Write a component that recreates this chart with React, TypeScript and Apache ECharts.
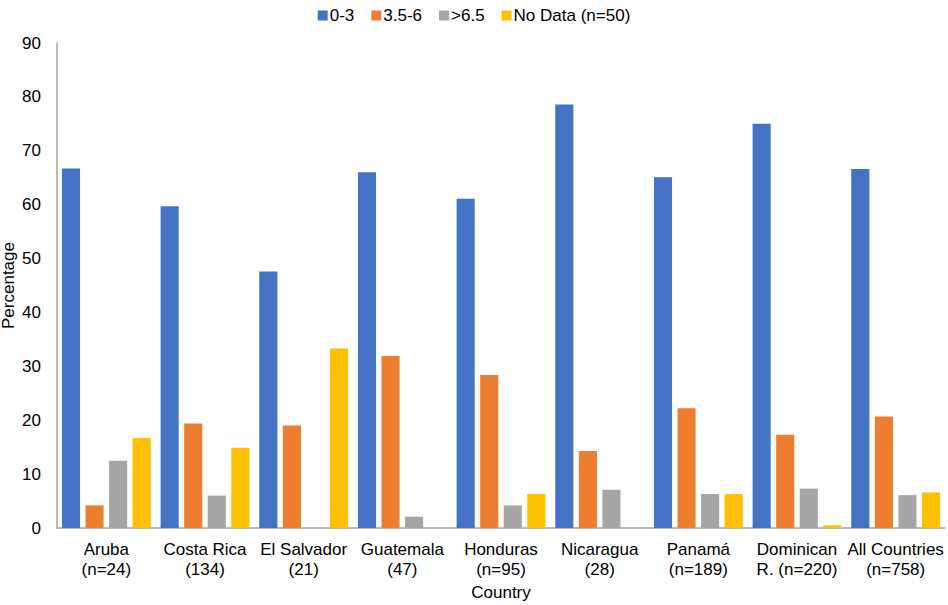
import React, { useEffect, useRef } from "react";
import * as echarts from "echarts";

const categories = [
  "Aruba\n(n=24)",
  "Costa Rica\n(134)",
  "El Salvador\n(21)",
  "Guatemala\n(47)",
  "Honduras\n(n=95)",
  "Nicaragua\n(28)",
  "Panamá\n(n=189)",
  "Dominican\nR. (n=220)",
  "All Countries\n(n=758)",
];
const seriesNames = ["0-3", "3.5-6", ">6.5", "No Data (n=50)"];
const values03 = [66.7, 59.7, 47.6, 66.0, 61.1, 78.6, 65.1, 75.0, 66.6];
const values356 = [4.2, 19.4, 19.0, 31.9, 28.4, 14.3, 22.2, 17.3, 20.7];
const values65 = [12.5, 6.0, 0, 2.1, 4.2, 7.1, 6.3, 7.3, 6.1];
const valuesNoData = [16.7, 14.9, 33.3, 0, 6.3, 0, 6.3, 0.5, 6.6];
const colors = ["#4472C4", "#ED7D31", "#A5A5A5", "#FFC000"];
const yTicks = { min: 0, max: 90, interval: 10 };

const FONT = "Liberation Sans, Arial, Helvetica, sans-serif";

export default function App() {
  const ref = useRef<HTMLDivElement>(null);
  useEffect(() => {
    document.body.style.margin = "0";
    if (!ref.current) return;
    const chart = echarts.init(ref.current, undefined, { renderer: "svg" });
    const data = [values03, values356, values65, valuesNoData];
    chart.setOption({
      animation: false,
      textStyle: { fontFamily: FONT },
      color: colors,
      legend: {
        top: 2,
        left: "center",
        itemWidth: 10,
        itemHeight: 10,
        itemGap: 17,
        icon: "rect",
        textStyle: { fontSize: 17, color: "#000", fontFamily: FONT, padding: [0, 0, 0, -3] },
        data: seriesNames,
      },
      grid: { left: 57, right: 3, top: 43, bottom: 77, containLabel: false, outerBoundsMode: "none" },
      xAxis: {
        type: "category",
        data: categories,
        name: "Country",
        nameLocation: "middle",
        nameGap: 56,
        nameMoveOverlap: false,
        nameTextStyle: { fontSize: 17, color: "#000", fontFamily: FONT },
        axisLine: { lineStyle: { color: "#A6A6A6", width: 1.5 } },
        axisTick: { show: false },
        axisLabel: {
          fontSize: 17,
          color: "#000",
          lineHeight: 20,
          margin: 11,
          interval: 0,
          fontFamily: FONT,
        },
      },
      yAxis: {
        type: "value",
        min: yTicks.min,
        max: yTicks.max,
        interval: yTicks.interval,
        name: "Percentage",
        nameLocation: "middle",
        nameGap: 40,
        nameMoveOverlap: false,
        nameTextStyle: { fontSize: 17, color: "#000", fontFamily: FONT },
        axisLine: { show: true, lineStyle: { color: "#A6A6A6", width: 1.5 } },
        axisTick: { show: false },
        splitLine: { show: false },
        axisLabel: { fontSize: 17, color: "#000", margin: 16, fontFamily: FONT },
      },
      series: seriesNames.map((name, i) => ({
        name,
        type: "bar",
        data: data[i],
        barGap: "30%",
        barCategoryGap: "10%",
        itemStyle: { color: colors[i] },
      })),
    });
    return () => chart.dispose();
  }, []);
  return <div ref={ref} style={{ width: 948, height: 605 }} />;
}
